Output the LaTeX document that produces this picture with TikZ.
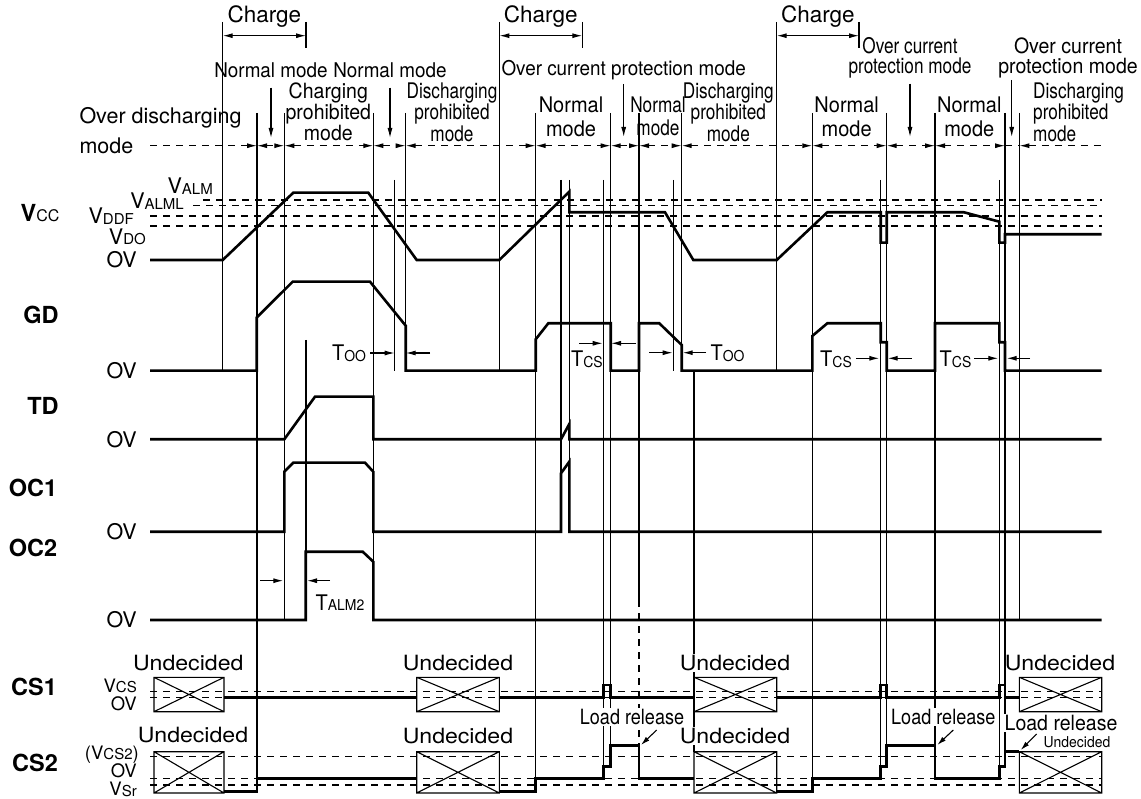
\documentclass[tikz,border=0pt]{standalone}
\usepackage{fontspec}
\setmainfont{TeX Gyre Heros}
\newfontfamily\nafont[FakeStretch=0.8]{TeX Gyre Heros}
\newfontfamily\lrfont[FakeStretch=0.86]{TeX Gyre Heros}
\newfontfamily\mdfont[FakeStretch=0.93]{TeX Gyre Heros}
\newfontfamily\wdfont[FakeStretch=1.1]{TeX Gyre Heros}
\usetikzlibrary{arrows.meta}
\newcommand\lsub[1]{\raisebox{-0.6pt}{\fontsize{15}{15}\selectfont #1}}

\begin{document}
\begin{tikzpicture}
    [
        x=1pt, y=-1pt,
        sig/.style={line width=2.6pt, line join=miter},
        guide/.style={line width=1.1pt},
        level/.style={line width=1.1pt, dash pattern=on 7pt off 6pt},
        span/.style={level, {Latex[length=10pt,width=5pt]}-{Latex[length=10pt,width=5pt]}},
        dim/.style={guide, {Latex[length=10pt,width=5pt]}-{Latex[length=10pt,width=5pt]}},
        tip/.style={guide, -{Latex[length=10pt,width=5pt]}},
        lab/.style={inner sep=0pt, font=\fontsize{21.5}{24}\selectfont},
        slab/.style={inner sep=0pt, font=\fontsize{18.5}{20}\selectfont},
        mlab/.style={inner sep=0pt, align=center, font=\mdfont\fontsize{21.5}{24}\selectfont},
        nlab/.style={inner sep=0pt, align=center, font=\nafont\fontsize{21.5}{19.5}\selectfont},
        sname/.style={inner sep=0pt, font=\bfseries\fontsize{23.5}{25}\selectfont},
        undec/.style={inner sep=1pt, font=\wdfont\fontsize{21}{23}\selectfont},
        box/.style={line width=1.1pt},
    ]

    \useasboundingbox (0,0) rectangle (1141,799);

    % guide lines
    \foreach \x/\a/\b in {222.7/22/371, 257/113/779, 284.3/113/620, 306/22/48,
        306/340/552, 373.3/113/620, 394.7/180/371, 405.7/113/371, 499.3/22/371,
        582.3/22/48, 535.7/113/790, 561/180/532, 569.3/180/532, 603.3/180/767,
        610.7/113/746, 673.3/180/371, 681.7/113/371, 694/371/752, 776.7/22/371,
        859/22/48, 812.3/113/790, 880.7/180/767, 886.7/113/746, 935/113/746,
        999.3/180/767, 1005/113/752, 1019.3/113/620}
        \draw[guide] (\x,\a) -- (\x,\b);
    \draw[guide] (639,113) -- (639,600);
    \draw[level] (639,600) -- (639,746);

    % levels
    \draw[level] (203,200)   -- (1101.7,200);
    \draw[level] (193,205.7) -- (1101.7,205.7);
    \draw[level] (150,216)   -- (1101.7,216);
    \draw[level] (150,226)   -- (1101.7,226);
    \draw[level] (150,691.7) -- (1101.7,691.7);
    \draw[level] (150,697.3) -- (1101.7,697.3);
    \draw[level] (150,756.7) -- (1101.7,756.7);
    \draw[level] (150,778.3) -- (1101.7,778.3);
    \draw[level] (150,785)   -- (1101.7,785);

    % mode row
    \draw[level, -{Latex[length=10pt,width=5pt]}] (150,145.7) -- (257,145.7);
    \foreach \a/\b in {257/284.3, 284.3/373.3, 373.3/405.7, 405.7/535.7,
        535.7/610.7, 610.7/639, 639/681.7, 681.7/812.3, 812.3/886.7,
        886.7/935, 935/1005}
        \draw[span] (\a,145.7) -- (\b,145.7);
    \draw[level] (1005,145.7) -- (1019.3,145.7);
    \draw[level, {Latex[length=10pt,width=5pt]}-] (1019.3,145.7) -- (1101.7,145.7);

    % charge
    \foreach \i/\a/\b in {1/222.7/306, 2/499.3/582.3, 3/776.7/859} {
        \coordinate (c\i a) at (\a,35.7);
        \coordinate (c\i b) at (\b,35.7);
        \draw[dim] (c\i a) -- (c\i b);
        \node[lab, font=\fontsize{22.5}{24}\selectfont] (chg\i) at ({(\a+\b)/2},17) {Charge};
    }

    % modes
    \node[lab, anchor=west] (odm) at (79.3,118) {Over discharging};
    \node[lab, anchor=west] (odm2) at (79.3,145.7) {mode};
    \node[mlab, font=\mdfont\fontsize{20.3}{24}\selectfont] (nm1) at (271,70) {Normal mode};
    \node[mlab, font=\mdfont\fontsize{20.3}{24}\selectfont] (nm2) at (390,70) {Normal mode};
    \node[mlab, font=\mdfont\fontsize{20.3}{24}\selectfont] (ocp1) at (623.7,70) {Over current protection mode};
    \node[mlab, font=\mdfont\fontsize{21}{19.5}\selectfont] (cpm) at (328.3,112) {Charging\\prohibited\\mode};
    \node[nlab] (dpm1) at (452,112) {Discharging\\prohibited\\mode};
    \node[mlab] (nm3) at (571,116.5) {Normal\\mode};
    \node[nlab, font=\nafont\fontsize{21.5}{23}\selectfont] (nm4) at (658,116.5) {Normal\\mode};
    \node[nlab] (dpm2) at (728.3,112) {Discharging\\prohibited\\mode};
    \node[mlab] (nm5) at (846.7,116.5) {Normal\\mode};
    \node[nlab, font=\nafont\fontsize{21.5}{20}\selectfont] (ocp2) at (910,58) {Over current\\protection mode};
    \node[mlab] (nm6) at (969.3,116.5) {Normal\\mode};
    \node[mlab, font=\mdfont\fontsize{21}{20}\selectfont] (ocp3) at (1068,58) {Over current\\protection mode};
    \node[nlab, align=left, anchor=west] (dpm3) at (1033,112) {Discharging\\prohibited\\mode};

    \coordinate (nm1e) at (271,138);
    \coordinate (nm2e) at (390,138);
    \coordinate (ocp1e) at (623.7,137);
    \coordinate (ocp2e) at (910,137);
    \coordinate (ocp3e) at (1011.7,137);
    \draw[tip, shorten <=10pt] (nm1) -- (nm1e);
    \draw[tip, shorten <=10pt] (nm2) -- (nm2e);
    \draw[tip, shorten <=4pt] (ocp1) -- (ocp1e);
    \draw[tip, shorten <=5pt] (ocp2.south) -- (ocp2e);
    \draw[tip] (1011.7,80) -- (ocp3e);

    % vcc
    \node[sname] (vcc) at (40,213) {V\fontsize{16}{16}\selectfont\mdseries CC};
    \node[lab, anchor=east] (valm) at (213,186) {V\lsub{ALM}};
    \node[lab, anchor=east] (valml) at (184,201) {V\lsub{ALML}};
    \node[lab, anchor=east] (vddf) at (134,216) {V\lsub{DDF}};
    \node[lab, anchor=east] (vdo) at (146,237) {V\lsub{DO}};
    \node[lab, anchor=east] (ov1) at (137,260) {OV};
    \draw[sig] (150,260) -- (222.7,260) -- (293.3,192.7) -- (368.3,192.7)
        -- (416.7,260) -- (499.3,260) -- (569.3,191.7) -- (569.3,212.3)
        -- (665,212.3) -- (693.3,260) -- (776.7,260) -- (827.3,212.3)
        -- (880.7,212.3) -- (880.7,242.7) -- (886.7,242.7) -- (886.7,212.3)
        -- (964,212.3) -- (999.3,221.7) -- (999.3,242.7) -- (1005,242.7)
        -- (1005,234.3) -- (1101.7,234.3);

    % gd
    \node[sname] (gd) at (41,315) {GD};
    \node[lab, anchor=east] (ov2) at (137,370.7) {OV};
    \draw[sig] (150,370.7) -- (256.7,370.7) -- (256.7,317.5) -- (292.7,281.7)
        -- (370,281.7) -- (405.7,325.7) -- (405.7,370.7) -- (535.7,370.7)
        -- (535.7,339.3) -- (548.3,323.3) -- (610.7,323.3) -- (610.7,370.7)
        -- (639,370.7) -- (639,323.3) -- (659.3,323.3) -- (681.7,345)
        -- (681.7,370.7) -- (812.3,370.7) -- (812.3,336) -- (827.3,323.3)
        -- (880.7,323.3) -- (880.7,342.3) -- (886.7,342.3) -- (886.7,370.7)
        -- (935,370.7) -- (935,323.3) -- (999.3,323.3) -- (999.3,342.3)
        -- (1005,342.3) -- (1005,370.7) -- (1101.7,370.7);

    \node[mlab] (too1) at (349,353) {T\lsub{OO}};
    \node[mlab] (tcs1) at (587,359) {T\lsub{CS}};
    \node[mlab] (too2) at (727.5,353) {T\lsub{OO}};
    \node[mlab] (tcs2) at (836,359) {T\lsub{CS}};
    \node[mlab] (tcs3) at (955.5,359) {T\lsub{CS}};
    \foreach \n/\a/\b/\y in {t1/370/394.7/353, t2/430/405.7/353,
        t3/579/602.7/343.3, t4/636/611/343.3, t5/649.3/672.7/352.7,
        t6/706/682.7/352.7, t7/856/879.3/358.3, t8/911.7/887.7/358.3,
        t9/974.3/998.3/358.3, t10/1030/1006.7/358.3, t11/260/283.3/580.7,
        t12/330/307/580.7} {
        \coordinate (\n a) at (\a,\y);
        \coordinate (\n b) at (\b,\y);
        \draw[tip] (\n a) -- (\n b);
    }

    % td
    \node[sname] (td) at (43,406) {TD};
    \node[lab, anchor=east] (ov3) at (137,439.3) {OV};
    \draw[sig] (150,439.3) -- (284.3,439.3) -- (315,396.7) -- (373.3,396.7)
        -- (373.3,439.3) -- (561,439.3) -- (569.3,424) -- (569.3,439.3)
        -- (1101.7,439.3);

    % oc1
    \node[sname] (oc1) at (33,488) {OC1};
    \node[lab, anchor=east] (ov4) at (137,531.7) {OV};
    \draw[sig] (150,531.7) -- (284.3,531.7) -- (284.3,471.7) -- (293.3,462.7)
        -- (365,462.7) -- (373.3,471.7) -- (373.3,531.7) -- (561,531.7)
        -- (561,473.3) -- (569.3,461.7) -- (569.3,531.7) -- (1101.7,531.7);

    % oc2
    \node[sname] (oc2) at (33,548) {OC2};
    \node[lab, anchor=east] (ov5) at (137,620) {OV};
    \draw[sig] (150,620) -- (305.7,620) -- (305.7,551.7) -- (362.7,551.7)
        -- (373.3,561.7) -- (373.3,620) -- (1101.7,620);
    \node[mlab] (talm) at (340,602.7) {T\lsub{ALM2}};

    % cs1
    \node[sname] (cs1) at (34,687) {CS1};
    \node[slab, anchor=east] (vcs) at (137,686) {V\lsub{CS}};
    \node[slab, anchor=east] (ov6) at (137,704) {OV};
    \draw[sig] (224,697.3) -- (416.7,697.3);
    \draw[sig] (499.3,697.3) -- (603.3,697.3) -- (603.3,685) -- (610.7,685)
        -- (610.7,697.3) -- (694,697.3);
    \draw[sig] (776.7,697.3) -- (880.7,697.3) -- (880.7,685) -- (886.7,685)
        -- (886.7,697.3) -- (999.3,697.3) -- (999.3,685) -- (1005,685)
        -- (1005,697.3) -- (1019.3,697.3);

    % cs2
    \node[sname] (cs2) at (35,763) {CS2};
    \node[slab, anchor=east] (vcs2) at (139,754.5) {(V\lsub{CS2})};
    \node[slab, anchor=east] (ov7) at (137,771) {OV};
    \node[slab, anchor=east] (vsr) at (137,789.5) {V\lsub{Sr}};
    \draw[sig] (224,791.7) -- (257,791.7) -- (257,778.3) -- (416.7,778.3);
    \draw[sig] (499.3,791.7) -- (535.7,791.7) -- (535.7,778.3) -- (603.3,778.3)
        -- (603.3,766.7) -- (610.7,766.7) -- (610.7,745.7) -- (639,745.7)
        -- (639,778.3) -- (694,778.3);
    \draw[sig] (776.7,791.7) -- (812.3,791.7) -- (812.3,778.3) -- (880.7,778.3)
        -- (880.7,766.7) -- (886.7,766.7) -- (886.7,745.7) -- (935,745.7)
        -- (935,778.3) -- (999.3,778.3) -- (999.3,766.7) -- (1005,766.7)
        -- (1005,751.7) -- (1019.3,751.7);

    % undecided boxes
    \foreach \i/\a/\b in {1/154/224, 2/416.7/499.3, 3/694/776.7, 4/1019.3/1101.7} {
        \draw[box] (\a,677.3) rectangle (\b,711.7) (\a,677.3) -- (\b,711.7) (\a,711.7) -- (\b,677.3);
        \draw[box] (\a,751.7) rectangle (\b,793) (\a,751.7) -- (\b,793) (\a,793) -- (\b,751.7);
    }
    \node[undec] (ua1) at (188.3,663) {Undecided};
    \node[undec] (ua2) at (458,663) {Undecided};
    \node[undec, fill=white] (ua3) at (735,663) {Undecided};
    \node[undec] (ua4) at (1060,663) {Undecided};
    \node[undec] (ub1) at (193,735) {Undecided};
    \node[undec] (ub2) at (458,736) {Undecided};
    \node[undec, fill=white] (ub3) at (735,736) {Undecided};
    \node[inner sep=0pt, font=\mdfont\fontsize{15}{16}\selectfont] (ub4) at (1077,742) {Undecided};

    % load release
    \node[lab, fill=white, inner sep=1pt, font=\lrfont\fontsize{21}{23}\selectfont] (lr1) at (632,716.7) {Load release};
    \node[lab, fill=white, inner sep=1pt, font=\lrfont\fontsize{21}{23}\selectfont] (lr2) at (943.3,716.7) {Load release};
    \node[lab, fill=white, inner sep=1pt, font=\mdfont\fontsize{21}{23}\selectfont] (lr3) at (1061,723.3) {Load release};
    \foreach \n/\a/\b/\c/\d in {l1/656.7/730/641/745, l2/953.3/730/937.3/745,
        l3/1036.7/734/1020.7/750} {
        \coordinate (\n a) at (\a,\b);
        \coordinate (\n b) at (\c,\d);
        \draw[guide, -{Latex[length=9pt,width=5pt]}] (\n a) -- (\n b);
    }

\end{tikzpicture}
\end{document}
